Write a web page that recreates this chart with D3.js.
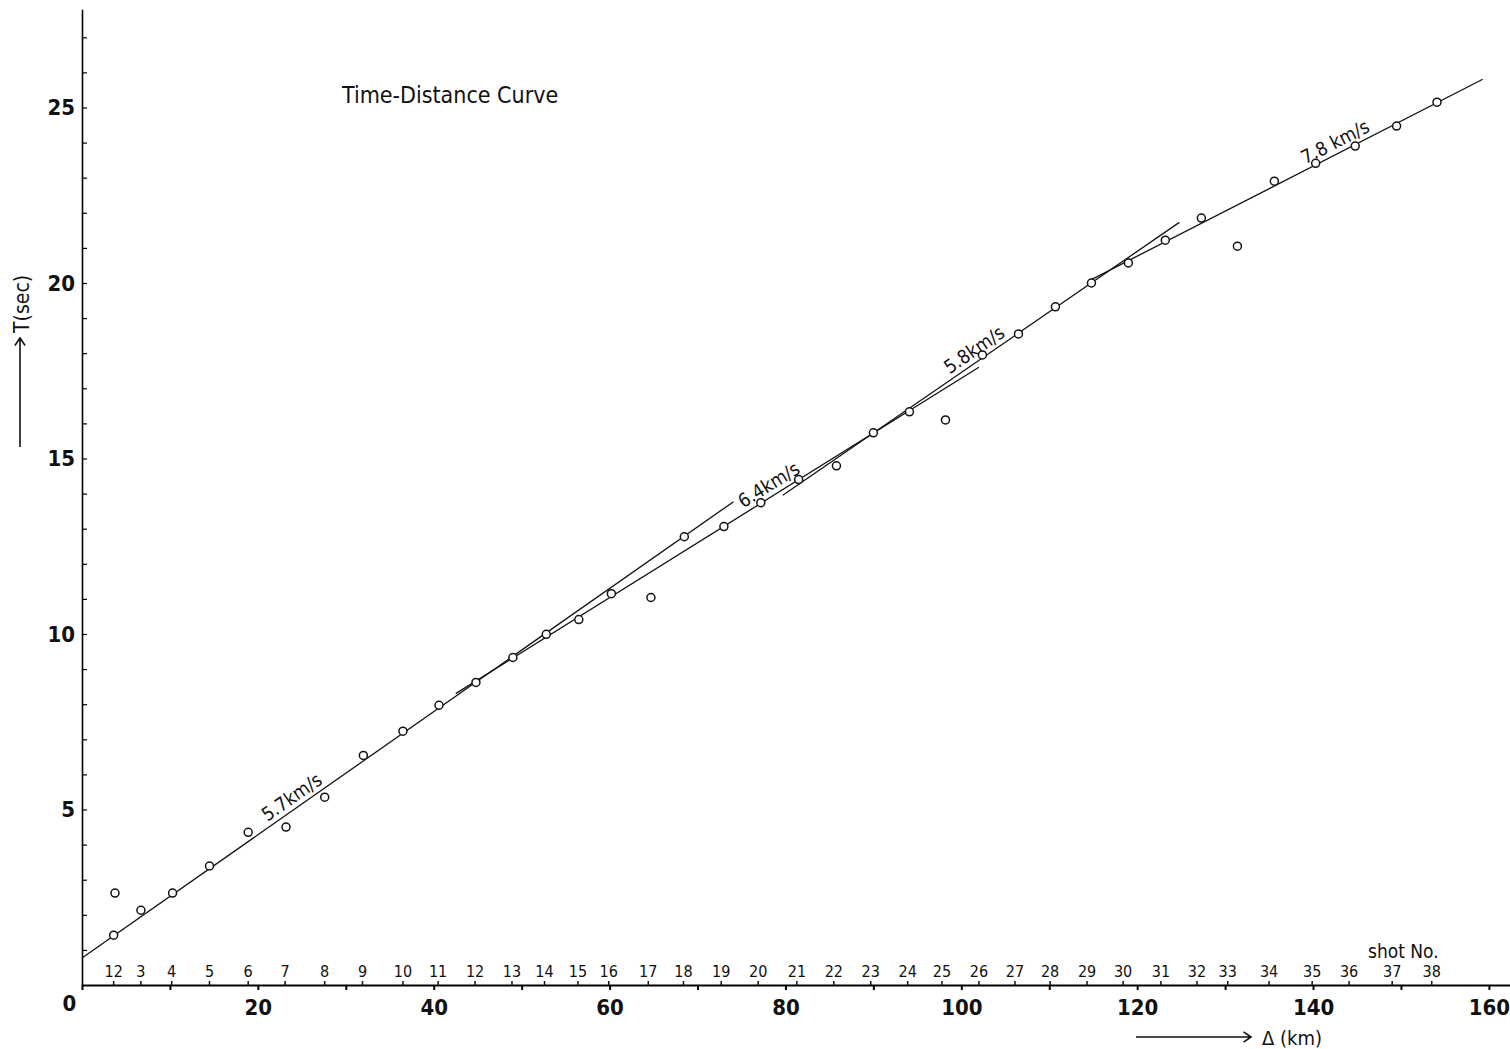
<!DOCTYPE html>
<html>
<head>
<meta charset="utf-8">
<script src="https://cdn.jsdelivr.net/npm/d3@7"></script>
<style>
  body { margin: 0; background: #fff; }
  svg { display: block; }
  text { font-family: "DejaVu Sans Condensed", "DejaVu Sans", sans-serif; fill: #111; }
</style>
</head>
<body>
<div id="chart"></div>
<script>
// shot numbers along the distance axis
const shotLabels = ["12", "3", "4", "5", "6", "7", "8", "9", "10", "11", "12", "13", "14", "15", "16",
    "17", "18", "19", "20", "21", "22", "23", "24", "25", "26", "27", "28", "29", "30", "31", "32",
    "33", "34", "35", "36", "37", "38"];
const shotKm = [3.6, 6.7, 10.2, 14.5, 18.9, 23.1, 27.6, 31.9, 36.5, 40.5, 44.7, 48.9, 52.6, 56.4,
    59.9, 64.4, 68.4, 72.7, 76.9, 81.3, 85.5, 89.7, 93.9, 97.8, 102.0, 106.1, 110.1, 114.3, 118.4,
    122.7, 126.8, 130.3, 135.0, 139.9, 144.1, 149.0, 153.5];

// observed travel times (first shot position has two readings)
const pointKm = [3.6, 3.75, 6.7, 10.3, 14.5, 18.9, 23.2, 27.6, 32.0, 36.5, 40.6, 44.8, 49.0, 52.8,
    56.5, 60.2, 64.7, 68.5, 73.0, 77.2, 81.5, 85.8, 90.0, 94.1, 98.2, 102.4, 106.5, 110.7, 114.8,
    119.0, 123.2, 127.3, 131.4, 135.6, 140.3, 144.8, 149.5, 154.1];
const pointT = [1.42, 2.62, 2.13, 2.62, 3.39, 4.35, 4.50, 5.35, 6.54, 7.23, 7.97, 8.62, 9.33, 9.99,
    10.41, 11.15, 11.04, 12.77, 13.06, 13.74, 14.40, 14.79, 15.73, 16.33, 16.10, 17.95, 18.55, 19.32,
    20.00, 20.57, 21.22, 21.85, 21.05, 22.90, 23.41, 23.90, 24.47, 25.15];

// straight travel-time branches: T = t0 + x / v
const segVel = [5.7, 6.4, 5.8, 7.8];
const segT0 = [0.77, 1.66, 0.21, 5.38];
const segFrom = [0, 42.5, 79.7, 114.9];
const segTo = [74.1, 102.0, 124.8, 159.3];
const segLabels = ["5.7km/s", "6.4km/s", "5.8km/s", "7.8 km/s"];
const segLabelKm = [24.6, 78.8, 102.2, 143.1];

const xTicks = d3.range(0, 161, 10);
const yTicks = d3.range(1, 28, 1);

const W = 1510, H = 1049;

const svg = d3.select("#chart")
    .append("svg")
    .attr("width", W)
    .attr("height", H);

const x = d3.scaleLinear().domain([0, 162.4]).range([82, 1510]);
const y = d3.scaleLinear().domain([0, 27.8]).range([985, 9.2]);

// x axis
const xAxis = svg.append("g")
    .attr("transform", "translate(0," + y(0) + ")")
    .call(d3.axisBottom(x)
        .tickValues(xTicks)
        .tickSizeInner(5)
        .tickSizeOuter(0)
        .tickPadding(9)
        .tickFormat(d => (d % 20 === 0 ? d : "")));
xAxis.select(".domain").attr("stroke-width", 2);
xAxis.selectAll(".tick line").attr("stroke-width", 2);
xAxis.selectAll("text")
    .style("font-size", "22px")
    .style("font-weight", "600")
    .attr("fill", "#111");
xAxis.selectAll(".tick text").filter(d => d === 0)
    .attr("dx", -13)
    .attr("dy", "0.55em");

// y axis
const yAxis = svg.append("g")
    .attr("transform", "translate(" + x(0) + ",0)")
    .call(d3.axisLeft(y)
        .tickValues(yTicks)
        .tickSizeInner(-5)
        .tickSizeOuter(0)
        .tickPadding(7)
        .tickFormat(d => (d % 5 === 0 ? d : "")));
yAxis.select(".domain").attr("stroke-width", 1.6);
yAxis.selectAll(".tick line").attr("stroke-width", 1.2);
yAxis.selectAll("text")
    .style("font-size", "22px")
    .style("font-weight", "600")
    .attr("fill", "#111");

// shot numbers
const shots = svg.append("g");
shots.selectAll("line")
    .data(shotKm)
    .enter().append("line")
    .attr("x1", d => x(d)).attr("x2", d => x(d))
    .attr("y1", y(0)).attr("y2", y(0) - 4)
    .attr("stroke", "#111")
    .attr("stroke-width", 1.5);
shots.selectAll("text")
    .data(shotKm)
    .enter().append("text")
    .attr("x", d => x(d))
    .attr("y", y(0) - 8)
    .attr("text-anchor", "middle")
    .style("font-size", "16px")
    .text((d, i) => shotLabels[i]);
svg.append("text")
    .attr("x", 1368).attr("y", 958)
    .style("font-size", "19px")
    .text("shot No.");

// branches
const segs = segVel.map((v, i) => ({v: v, t0: segT0[i], a: segFrom[i], b: segTo[i],
    label: segLabels[i], lk: segLabelKm[i]}));
const tAt = (s, k) => s.t0 + k / s.v;

svg.append("g").selectAll("line")
    .data(segs)
    .enter().append("line")
    .attr("x1", d => x(d.a)).attr("y1", d => y(tAt(d, d.a)))
    .attr("x2", d => x(d.b)).attr("y2", d => y(tAt(d, d.b)))
    .attr("stroke", "#111")
    .attr("stroke-width", 1.3);

svg.append("g").selectAll("text")
    .data(segs)
    .enter().append("text")
    .attr("transform", d => {
        const ang = Math.atan2(y(tAt(d, d.b)) - y(tAt(d, d.a)), x(d.b) - x(d.a)) * 180 / Math.PI;
        return "translate(" + x(d.lk) + "," + y(tAt(d, d.lk)) + ") rotate(" + ang + ")";
    })
    .attr("dy", -5)
    .attr("text-anchor", "middle")
    .style("font-size", "19px")
    .text(d => d.label);

// observations
svg.append("g").selectAll("circle")
    .data(pointKm)
    .enter().append("circle")
    .attr("cx", d => x(d))
    .attr("cy", (d, i) => y(pointT[i]))
    .attr("r", 4)
    .attr("fill", "#fff")
    .attr("stroke", "#111")
    .attr("stroke-width", 1.5);

// title
svg.append("text")
    .attr("x", 342).attr("y", 103)
    .style("font-size", "23px")
    .text("Time-Distance Curve");

// axis titles with arrows
const arrow = (x1, y1, x2, y2) => {
    const a = Math.atan2(y2 - y1, x2 - x1), h = 9;
    return "M" + x1 + "," + y1 + "L" + x2 + "," + y2 +
        "M" + (x2 - h * Math.cos(a - 0.6)) + "," + (y2 - h * Math.sin(a - 0.6)) +
        "L" + x2 + "," + y2 +
        "L" + (x2 - h * Math.cos(a + 0.6)) + "," + (y2 - h * Math.sin(a + 0.6));
};
svg.append("path")
    .attr("d", arrow(20, 447, 20, 338))
    .attr("fill", "none").attr("stroke", "#111").attr("stroke-width", 1.6);
svg.append("text")
    .attr("transform", "translate(29,333) rotate(-90)")
    .style("font-size", "21px")
    .text("T(sec)");

svg.append("path")
    .attr("d", arrow(1136, 1037, 1251, 1037))
    .attr("fill", "none").attr("stroke", "#111").attr("stroke-width", 1.6);
svg.append("text")
    .attr("x", 1262).attr("y", 1045)
    .style("font-size", "20px")
    .text("Δ (km)");
</script>
</body>
</html>
